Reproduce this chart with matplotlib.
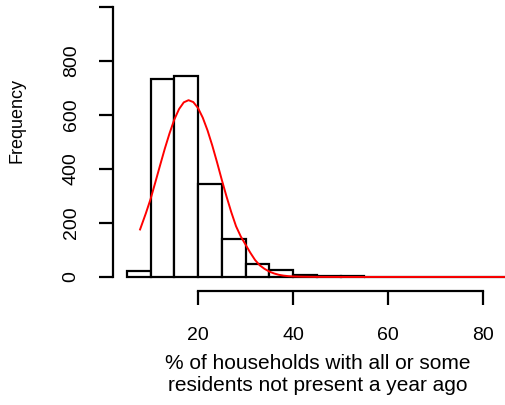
import matplotlib
matplotlib.use('Agg')
import matplotlib.pyplot as plt

plt.rcParams['font.family'] = ['Liberation Sans', 'DejaVu Sans']

# histogram bins (width 5) and counts
bin_edges = [5, 10, 15, 20, 25, 30, 35, 40, 45, 50, 55, 60, 65, 70, 75, 80, 85]
counts = [22, 733, 743, 346, 139, 48, 27, 8, 4, 2, 0, 1, 0, 0, 1, 1]

# fitted curve
curve_x = [7.8, 9, 10, 11, 12, 13, 14, 15, 16, 17, 18, 19, 20, 21, 22, 23, 24, 25,
           26, 27, 28, 29, 30, 31, 32, 33, 34, 35, 36, 37, 38, 39, 40, 42, 45, 50, 85]
curve_y = [176, 235, 288, 350, 413, 475, 532, 583, 622, 647, 655, 648, 626, 590, 543,
           487, 425, 360, 298, 240, 188, 150, 120, 90, 63, 43, 30, 20, 13, 8, 5, 3, 2,
           1, 0.3, 0, 0]

x_ticks = [20, 40, 60, 80]
y_ticks = [0, 200, 400, 600, 800, 1000]
y_labels = ['0', '200', '400', '600', '800', '']

fig = plt.figure(figsize=(5.05, 4.05), dpi=100)
# axes run past the right edge of the figure, like the cropped original
ax = fig.add_axes([113 / 505, 0.2815, 409 / 505, 0.7277])

widths = [b - a for a, b in zip(bin_edges[:-1], bin_edges[1:])]
ax.bar(bin_edges[:-1], counts, width=widths, align='edge',
       facecolor='white', edgecolor='black', linewidth=1.6)
ax.plot(curve_x, curve_y, color='red', lw=1.4)

ax.set_xlim(2.1, 88.2)
ax.set_ylim(-52, 1040)

for s in ['top', 'right']:
    ax.spines[s].set_visible(False)
ax.spines['left'].set_bounds(0, 1000)
ax.spines['bottom'].set_bounds(20, 80)
ax.spines['left'].set_linewidth(1.6)
ax.spines['bottom'].set_linewidth(1.6)

ax.set_xticks(x_ticks)
ax.set_yticks(y_ticks)
ax.set_yticklabels(y_labels, rotation=90, va='center')
ax.tick_params(axis='both', length=10, width=1.6, labelsize=14)
ax.tick_params(axis='x', pad=16)
ax.tick_params(axis='y', pad=14)

ax.set_ylabel('Frequency', fontsize=13)
ax.yaxis.set_label_coords(-0.215, 0.58)
ax.set_xlabel('% of households with all or some\nresidents not present a year ago',
              fontsize=15, labelpad=7, linespacing=1.24)

plt.savefig('out.png', dpi=100)
